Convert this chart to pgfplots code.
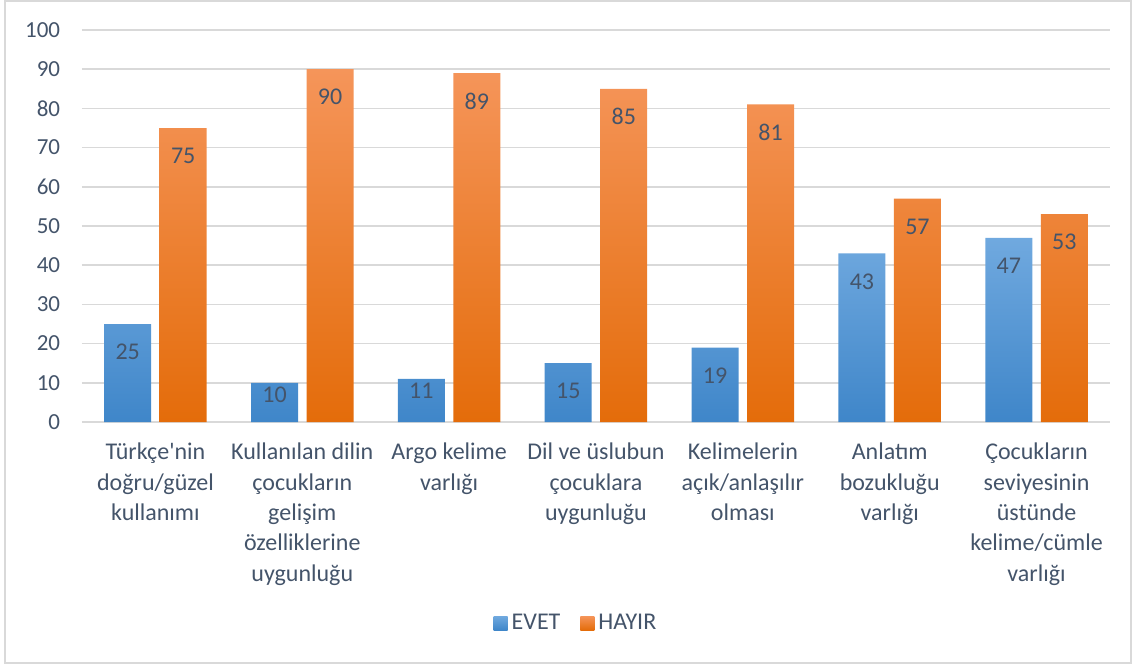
\documentclass[border=0pt]{standalone}
\usepackage{fontspec}
\setmainfont{Carlito}[Ligatures=TeXOff]
\usepackage{pgfplots}
\pgfplotsset{compat=1.18}
\definecolor{txt}{HTML}{44546A}
\definecolor{gridc}{HTML}{D9D9D9}
\definecolor{bordc}{HTML}{D9D9D9}
\definecolor{bT}{HTML}{70A9DF}
\definecolor{bB}{HTML}{3F86C9}
\definecolor{oT}{HTML}{F5955A}
\definecolor{oB}{HTML}{E46C0A}
\begin{document}
\begin{tikzpicture}
\path[use as bounding box] (-41pt,-122pt) rectangle (525pt,211pt);
\draw[color=bordc, line width=0.6pt] (-38.5pt,-120.5pt) rectangle (524.5pt,210.5pt);
\begin{axis}[
  scale only axis, width=514pt, height=196pt,
  xmin=-0.5, xmax=6.5, ymin=0, ymax=100,
  ybar=4.25pt, bar width=23.5pt,
  xtick={0,1,2,3,4,5,6},
  xticklabels={{Türkçe'nin\\doğru/güzel\\kullanımı},
    {Kullanılan dilin\\çocukların\\gelişim\\özelliklerine\\uygunluğu},
    {Argo kelime\\varlığı},
    {Dil ve üslubun\\çocuklara\\uygunluğu},
    {Kelimelerin\\açık/anlaşılır\\olması},
    {Anlatım\\bozukluğu\\varlığı},
    {Çocukların\\seviyesinin\\üstünde\\kelime/cümle\\varlığı}},
  ytick={0,10,...,100},
  ymajorgrids, major grid style={color=gridc, line width=0.75pt},
  axis line style={draw=none},
  major tick length=0pt,
  tick style={draw=none},
  /pgf/number format/assume math mode=true,
  ticklabel style={text=txt},
  yticklabel style={font=\fontsize{11.5}{14}\selectfont, xshift=-7.4pt},
  xticklabel style={font=\fontsize{12}{15.2}\selectfont, align=center, yshift=-7pt},
  nodes near coords,
  visualization depends on={y \as \rawy},
  nodes near coords={\pgfmathprintnumber{\rawy}},
  every node near coord/.append style={font=\fontsize{12}{14}\selectfont, text=txt, anchor=center,
     /utils/exec={\pgfmathsetmacro\labsh{\rawy<12 ? 6 : 14}}, yshift=-\labsh pt},
  legend style={draw=none, at={(0.4815,-0.5128)}, anchor=center, legend columns=2,
     font=\fontsize{12}{14}\selectfont, text=txt,
     /tikz/every even column/.append style={column sep=8pt}},
  legend image code/.code={\path[#1, draw=none] (0pt,-3.5pt) rectangle (7pt,3.5pt);},
]
\addplot[top color=bT, bottom color=bB, draw=none] coordinates {(0,25) (1,10) (2,11) (3,15) (4,19) (5,43) (6,47)};
\addplot[top color=oT, bottom color=oB, draw=none] coordinates {(0,75) (1,90) (2,89) (3,85) (4,81) (5,57) (6,53)};
\legend{EVET, HAYIR}
\end{axis}
\end{tikzpicture}
\end{document}
